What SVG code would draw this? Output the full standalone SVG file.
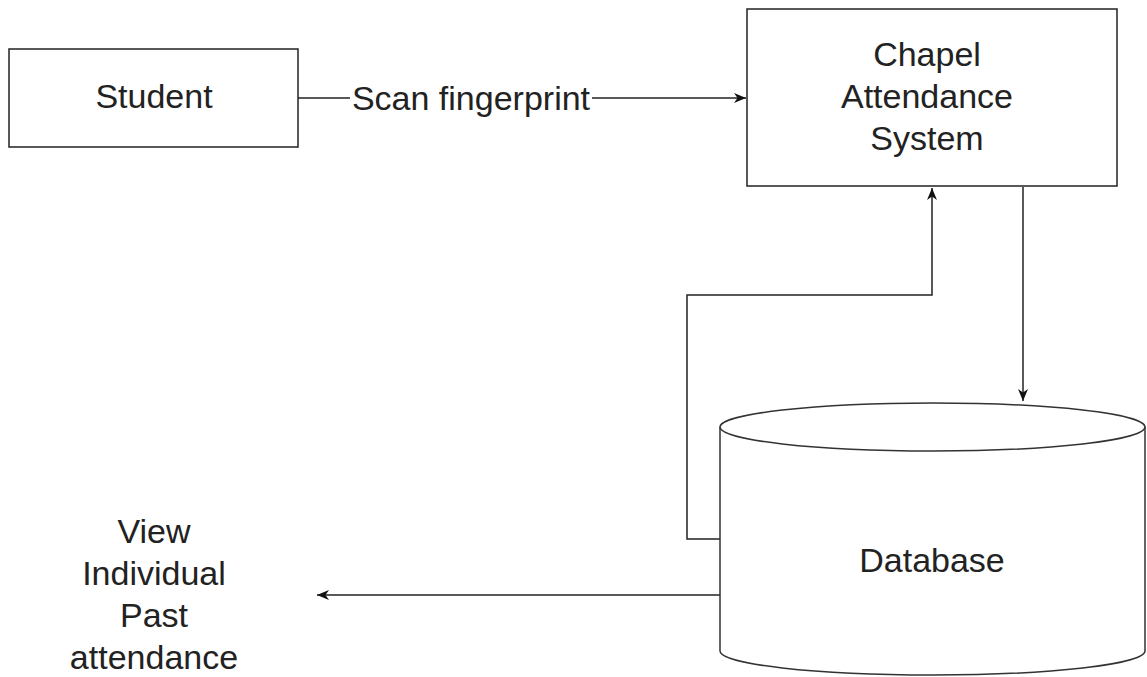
<svg xmlns="http://www.w3.org/2000/svg" width="1147" height="677" viewBox="0 0 1147 677">
  <style>
    .box { fill: #ffffff; stroke: #222222; stroke-width: 1.5; }
    .cyl { fill: #ffffff; stroke: #333333; stroke-width: 1.5; }
    .lbl { font-family: "Liberation Sans", Arial, sans-serif; font-size: 34px; fill: #222222; text-anchor: middle; }
    .edge { fill: none; stroke: #222222; stroke-width: 1.5; }
  </style>
  <defs>
    <marker id="arrow" markerUnits="userSpaceOnUse" markerWidth="14" markerHeight="12" refX="12" refY="6" orient="auto">
      <path d="M0,1 L12,6 L0,11 L3.5,6 Z" fill="#111111"/>
    </marker>
  </defs>
  <rect width="1147" height="677" fill="#ffffff"/>

  <g id="connectors">
    <path class="edge" d="M298,98 H746" marker-end="url(#arrow)"/>
    <rect x="350" y="80" width="242" height="36" fill="#ffffff"/>
    <text class="lbl" x="471" y="110">Scan fingerprint</text>
    <path class="edge" d="M720,539 H687 V295 H932 V188" marker-end="url(#arrow)"/>
    <path class="edge" d="M1023,187 V401" marker-end="url(#arrow)"/>
    <path class="edge" d="M720,595 H317" marker-end="url(#arrow)"/>
  </g>

  <g id="student">
    <rect class="box" x="9" y="49" width="289" height="98"/>
    <text class="lbl" x="154" y="108">Student</text>
  </g>

  <g id="chapel-system">
    <rect class="box" x="747" y="9" width="370" height="177"/>
    <text class="lbl" x="927" y="66">Chapel</text>
    <text class="lbl" x="927" y="108">Attendance</text>
    <text class="lbl" x="927" y="150">System</text>
  </g>

  <g id="database">
    <path class="cyl" d="M720,427 V651 A212.5,24 0 0 0 1145,651 V427"/>
    <ellipse class="cyl" cx="932.5" cy="427" rx="212.5" ry="24"/>
    <text class="lbl" x="932" y="572">Database</text>
  </g>

  <g id="view-attendance">
    <text class="lbl" x="154" y="543">View</text>
    <text class="lbl" x="154" y="585">Individual</text>
    <text class="lbl" x="154" y="627">Past</text>
    <text class="lbl" x="154" y="669">attendance</text>
  </g>
</svg>
